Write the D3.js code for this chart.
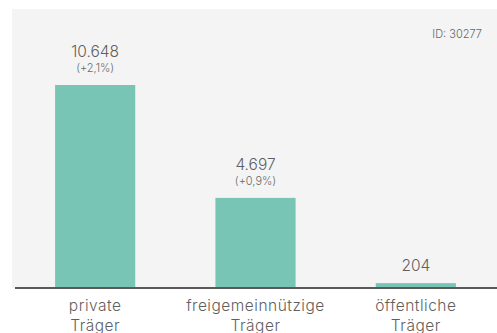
<!DOCTYPE html>
<html>
<head>
<meta charset="utf-8">
<script src="https://cdn.jsdelivr.net/npm/d3@7"></script>
<style>
  html, body { margin: 0; padding: 0; background: #ffffff; }
  svg { display: block; font-family: "Inter", "Lato", sans-serif; font-weight: 300; }
</style>
</head>
<body>
<div id="chart"></div>
<script>
// Einrichtungen nach Trägerschaft
const categories = [["private", "Träger"], ["freigemeinnützige", "Träger"], ["öffentliche", "Träger"]];
const values = [10648, 4697, 204];
const valueLabels = ["10.648", "4.697", "204"];
const changeLabels = ["(+2,1%)", "(+0,9%)", ""];
const chartId = "ID: 30277";

const width = 497, height = 333;
const baseY = 287;

const svg = d3.select("#chart").append("svg")
  .attr("width", width)
  .attr("height", height);

// light panel behind the plot
svg.append("rect")
  .attr("x", 12).attr("y", 9)
  .attr("width", width - 12).attr("height", baseY - 9 + 1)
  .attr("fill", "#f4f4f4");

const x = d3.scaleBand()
  .domain(d3.range(values.length))
  .range([15, 496])
  .paddingInner(0.5)
  .paddingOuter(0.25);

const y = d3.scaleLinear()
  .domain([0, 10648])
  .range([baseY, 85]);

svg.selectAll("rect.bar")
  .data(values)
  .join("rect")
  .attr("class", "bar")
  .attr("x", (d, i) => x(i))
  .attr("y", d => y(d))
  .attr("width", x.bandwidth())
  .attr("height", d => baseY - y(d))
  .attr("fill", "#78c5b6");

// value and change labels above bars
values.forEach((v, i) => {
  const cx = x(i) + x.bandwidth() / 2;
  const top = y(v);
  if (changeLabels[i]) {
    svg.append("text")
      .attr("x", cx).attr("y", top - 28)
      .attr("text-anchor", "middle")
      .attr("font-size", 15.5)
      .attr("fill", "#5f5f5f")
      .text(valueLabels[i]);
    svg.append("text")
      .attr("x", cx).attr("y", top - 13)
      .attr("text-anchor", "middle")
      .attr("font-size", 11)
      .attr("fill", "#6a6a6a")
      .text(changeLabels[i]);
  } else {
    svg.append("text")
      .attr("x", cx).attr("y", top - 12)
      .attr("text-anchor", "middle")
      .attr("font-size", 15.5)
      .attr("fill", "#5f5f5f")
      .text(valueLabels[i]);
  }
});

// x axis
const axis = svg.append("g")
  .attr("transform", `translate(0,${baseY + 1})`)
  .call(d3.axisBottom(x).tickSize(0).tickFormat(""));
axis.select(".domain")
  .attr("d", `M15,0H${width}`)
  .attr("stroke", "#595959")
  .attr("stroke-width", 2);

categories.forEach((lines, i) => {
  const t = svg.append("text")
    .attr("x", x(i) + x.bandwidth() / 2)
    .attr("y", 311)
    .attr("text-anchor", "middle")
    .attr("font-size", 15.5)
    .attr("letter-spacing", 0.5)
    .attr("fill", "#5f5f5f");
  lines.forEach((l, j) => {
    t.append("tspan")
      .attr("x", x(i) + x.bandwidth() / 2)
      .attr("dy", j === 0 ? 0 : 20)
      .text(l);
  });
});

svg.append("text")
  .attr("x", 482).attr("y", 38)
  .attr("text-anchor", "end")
  .attr("font-size", 11)
  .attr("fill", "#666")
  .text(chartId);
</script>
</body>
</html>
